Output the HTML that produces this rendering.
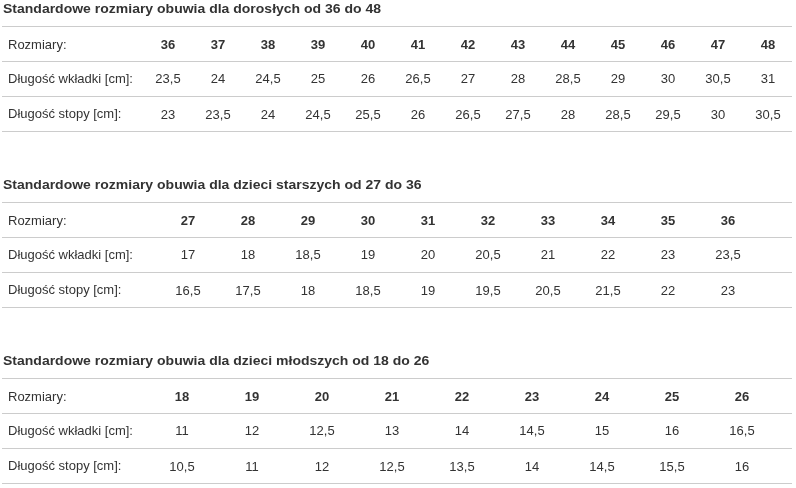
<!DOCTYPE html>
<html lang="pl">
<head>
<meta charset="utf-8">
<title>Tabela rozmiarów obuwia</title>
<style>
html,body{margin:0;padding:0;background:#fff;}
body{width:796px;height:488px;position:relative;overflow:hidden;font-family:"Liberation Sans",Arial,sans-serif;color:#333;font-size:13px;}
h3{position:absolute;left:3px;margin:0;font-size:14px;line-height:16px;font-weight:bold;white-space:nowrap;transform:scaleY(0.91);transform-origin:0 13px;}
table{position:absolute;left:2px;width:790px;border-collapse:collapse;border-spacing:0;table-layout:fixed;}
td,th{height:16px;padding:10px 0 8px 0;border-top:1px solid #ccc;border-bottom:1px solid #ccc;text-align:center;vertical-align:middle;font-size:13px;line-height:16px;white-space:nowrap;overflow:visible;}
td.l{text-align:left;padding-left:6px;}
th{font-weight:bold;}
.e{padding-left:1px;}
tr.r2 td,tr.r3 td.l{padding-top:9px;padding-bottom:9px;}
</style>
</head>
<body>
<h3 style="top:0px">Standardowe rozmiary obuwia dla dorosłych od 36 do 48</h3>
<table style="top:26px">
<colgroup><col style="width:141px"><col style="width:50px"><col style="width:50px"><col style="width:50px"><col style="width:50px"><col style="width:50px"><col style="width:50px"><col style="width:50px"><col style="width:50px"><col style="width:50px"><col style="width:50px"><col style="width:50px"><col style="width:50px"><col style="width:49px"></colgroup>
<tr class="r1"><td class="l">Rozmiary:</td><th>36</th><th>37</th><th>38</th><th>39</th><th>40</th><th>41</th><th>42</th><th>43</th><th>44</th><th>45</th><th>46</th><th>47</th><th class="e">48</th></tr>
<tr class="r2"><td class="l">Długość wkładki [cm]:</td><td>23,5</td><td>24</td><td>24,5</td><td>25</td><td>26</td><td>26,5</td><td>27</td><td>28</td><td>28,5</td><td>29</td><td>30</td><td>30,5</td><td class="e">31</td></tr>
<tr class="r3"><td class="l">Długość stopy [cm]:</td><td>23</td><td>23,5</td><td>24</td><td>24,5</td><td>25,5</td><td>26</td><td>26,5</td><td>27,5</td><td>28</td><td>28,5</td><td>29,5</td><td>30</td><td class="e">30,5</td></tr>
</table>
<h3 style="top:176px">Standardowe rozmiary obuwia dla dzieci starszych od 27 do 36</h3>
<table style="top:202px">
<colgroup><col style="width:156px"><col style="width:60px"><col style="width:60px"><col style="width:60px"><col style="width:60px"><col style="width:60px"><col style="width:60px"><col style="width:60px"><col style="width:60px"><col style="width:60px"><col style="width:60px"><col style="width:34px"></colgroup>
<tr class="r1"><td class="l">Rozmiary:</td><th>27</th><th>28</th><th>29</th><th>30</th><th>31</th><th>32</th><th>33</th><th>34</th><th>35</th><th>36</th><td></td></tr>
<tr class="r2"><td class="l">Długość wkładki [cm]:</td><td>17</td><td>18</td><td>18,5</td><td>19</td><td>20</td><td>20,5</td><td>21</td><td>22</td><td>23</td><td>23,5</td><td></td></tr>
<tr class="r3"><td class="l">Długość stopy [cm]:</td><td>16,5</td><td>17,5</td><td>18</td><td>18,5</td><td>19</td><td>19,5</td><td>20,5</td><td>21,5</td><td>22</td><td>23</td><td></td></tr>
</table>
<h3 style="top:352px">Standardowe rozmiary obuwia dla dzieci młodszych od 18 do 26</h3>
<table style="top:378px">
<colgroup><col style="width:145px"><col style="width:70px"><col style="width:70px"><col style="width:70px"><col style="width:70px"><col style="width:70px"><col style="width:70px"><col style="width:70px"><col style="width:70px"><col style="width:70px"><col style="width:15px"></colgroup>
<tr class="r1"><td class="l">Rozmiary:</td><th>18</th><th>19</th><th>20</th><th>21</th><th>22</th><th>23</th><th>24</th><th>25</th><th>26</th><td></td></tr>
<tr class="r2"><td class="l">Długość wkładki [cm]:</td><td>11</td><td>12</td><td>12,5</td><td>13</td><td>14</td><td>14,5</td><td>15</td><td>16</td><td>16,5</td><td></td></tr>
<tr class="r3"><td class="l">Długość stopy [cm]:</td><td>10,5</td><td>11</td><td>12</td><td>12,5</td><td>13,5</td><td>14</td><td>14,5</td><td>15,5</td><td>16</td><td></td></tr>
</table>
</body>
</html>
